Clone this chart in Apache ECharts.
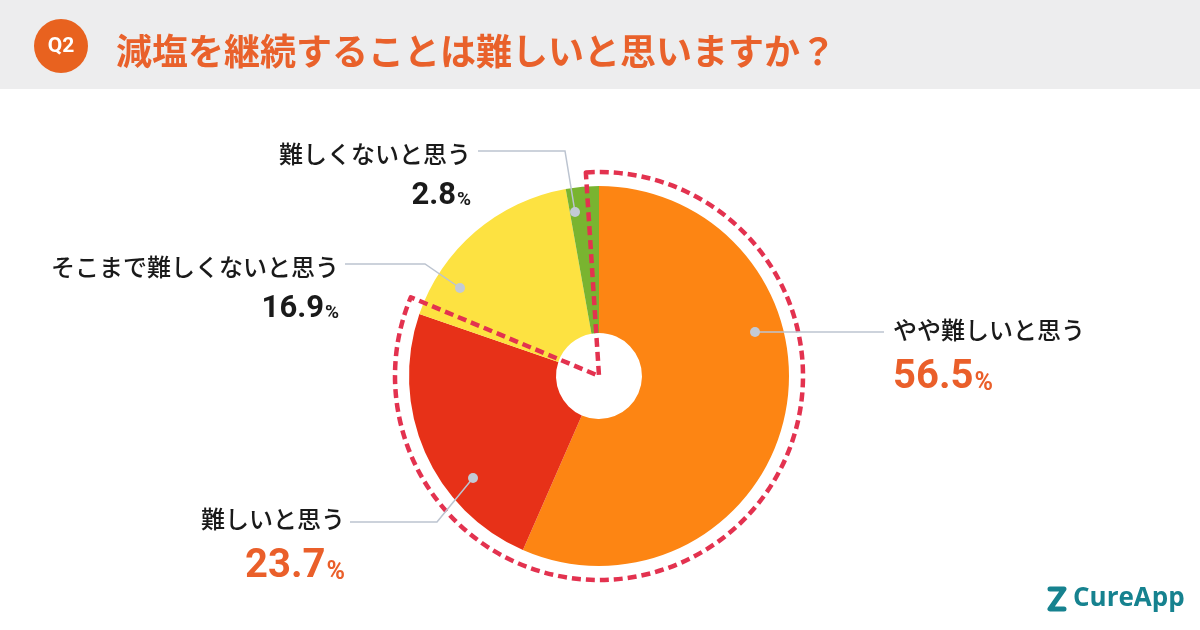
<!DOCTYPE html>
<html>
<head>
<meta charset="utf-8">
<script src="https://cdn.jsdelivr.net/npm/echarts@6/dist/echarts.min.js"></script>
<style>
  html, body { margin: 0; padding: 0; background: #fff; }
  #chart-container { width: 1200px; height: 630px; }
</style>
</head>
<body>
<div id="chart-container"></div>
<script>
// answers, clockwise from 12 o'clock
var categorias = ['やや難しいと思う', '難しいと思う', 'そこまで難しくないと思う', '難しくないと思う'];
var valores = [56.5, 23.7, 16.9, 2.8];
var destaque = [true, true, false, false]; // the "difficult" group, boxed with the dashed line

var titulo = '減塩を継続することは難しいと思いますか？';

var cores = ['#fd8513', '#e73118', '#fde241', '#79b430'];
var CENTRO = [599, 376];

// where each label sits and how its leader line runs (pixels)
var rotulos = [
  { x: 893, y: 308, align: 'left',  linha: [[755, 332], [800, 332], [884, 332]] },
  { x: 345, y: 497, align: 'right', linha: [[473, 478], [437, 522], [350, 522]] },
  { x: 339, y: 245, align: 'right', linha: [[460, 288], [425, 264], [345, 264]] },
  { x: 471, y: 132, align: 'right', linha: [[575, 212], [565, 151], [478, 151]] }
];

var dom = document.getElementById('chart-container');
var myChart = echarts.init(dom, null, { renderer: 'canvas' });

var total = valores.reduce(function (a, b) { return a + b; }, 0);
var somaDestaque = 0;
valores.forEach(function (v, i) { if (destaque[i]) somaDestaque += v; });
var folga = 3.7; // degrees the dashed outline sticks out on each side
var valorTracejado = somaDestaque + total * (2 * folga) / 360;

var dados = categorias.map(function (nome, i) {
  return { name: nome, value: valores[i], itemStyle: { color: cores[i] } };
});
var dadosRotulo = categorias.map(function (nome, i) {
  return { name: nome, value: valores[i], itemStyle: { color: 'rgba(0,0,0,0)' } };
});

var option = {
  backgroundColor: '#ffffff',
  animation: false,
  title: {
    text: titulo,
    left: 111,
    top: 23,
    textStyle: {
      fontFamily: 'Noto Sans CJK JP',
      fontSize: 36,
      fontWeight: 'bold',
      color: '#e9612b',
      lineHeight: 46
    }
  },
  graphic: [
    { type: 'rect', z: -10, shape: { x: 0, y: 0, width: 1200, height: 89 }, style: { fill: '#ededee' } },
    { type: 'circle', shape: { cx: 61, cy: 46, r: 27 }, style: { fill: '#e8621f' } },
    {
      type: 'text', x: 61, y: 47,
      style: { text: 'Q2', fill: '#fff', font: 'bold 21px Roboto', align: 'center', verticalAlign: 'middle' }
    },
    {
      type: 'polyline', z: 10,
      shape: { points: [[1050, 589], [1064, 589], [1050, 609], [1064, 609]] },
      style: { stroke: '#16828f', lineWidth: 5, lineCap: 'round', lineJoin: 'round', fill: null }
    },
    {
      type: 'text', x: 1073, y: 599,
      style: { text: 'CureApp', fill: '#16828f', font: 'bold 26px "Open Sans"', verticalAlign: 'middle' }
    }
  ].concat(rotulos.map(function (r) {
    return {
      type: 'circle', z: 100,
      shape: { cx: r.linha[0][0], cy: r.linha[0][1], r: 5 },
      style: { fill: '#c3cad5' }
    };
  })),
  series: [
    {
      type: 'pie',
      z: 2,
      center: CENTRO,
      radius: [43, 190],
      startAngle: 90,
      clockwise: true,
      silent: true,
      emphasis: { scale: false },
      label: { show: false },
      labelLine: { show: false },
      data: dados
    },
    {
      // dashed outline around the "difficult" answers
      type: 'pie',
      z: 5,
      center: CENTRO,
      radius: [0, 204],
      startAngle: 90 + folga,
      clockwise: true,
      silent: true,
      emphasis: { disabled: true },
      label: { show: false },
      labelLine: { show: false },
      data: [
        {
          value: valorTracejado,
          itemStyle: {
            color: 'rgba(0,0,0,0)',
            borderColor: '#e3324f',
            borderWidth: 4.5,
            borderType: [9, 5]
          }
        },
        {
          value: total - valorTracejado,
          itemStyle: { color: 'rgba(0,0,0,0)', borderWidth: 0 }
        }
      ]
    },
    {
      // same slices again, invisible, only to carry labels and leader lines on top
      type: 'pie',
      z: 8,
      center: CENTRO,
      radius: [43, 190],
      startAngle: 90,
      clockwise: true,
      silent: true,
      emphasis: { disabled: true },
      data: dadosRotulo,
      label: {
        show: true,
        position: 'outside',
        formatter: function (p) {
          var big = destaque[p.dataIndex];
          var num = valores[p.dataIndex].toFixed(1);
          return '{nome|' + p.name + '}\n' +
            (big ? '{numA|' + num + '}{pctA|%}' : '{numB|' + num + '}{pctB|%}');
        },
        rich: {
          nome: { fontFamily: 'Noto Sans CJK JP', fontSize: 24, fontWeight: 500, color: '#1a1a1a', lineHeight: 44 },
          numA: { fontFamily: 'Roboto', fontSize: 40, fontWeight: 'bold', color: '#ea5f2a', lineHeight: 52 },
          pctA: { fontFamily: 'Roboto', fontSize: 25, fontWeight: 'bold', color: '#ea5f2a', lineHeight: 25, verticalAlign: 'bottom', padding: [0, 0, 8, 1] },
          numB: { fontFamily: 'Roboto', fontSize: 31, fontWeight: 'bold', color: '#1a1a1a', lineHeight: 40 },
          pctB: { fontFamily: 'Roboto', fontSize: 19, fontWeight: 'bold', color: '#1a1a1a', lineHeight: 19, verticalAlign: 'bottom', padding: [0, 0, 6, 1] }
        }
      },
      labelLine: {
        show: true,
        length: 20,
        length2: 40,
        smooth: false,
        lineStyle: { color: '#bcc4d0', width: 1.5 }
      },
      labelLayout: function (params) {
        var r = rotulos[params.dataIndex];
        return {
          x: r.x,
          y: r.y,
          align: r.align,
          verticalAlign: 'top',
          labelLinePoints: r.linha
        };
      }
    }
  ]
};

if (option && typeof option === 'object') {
  myChart.setOption(option);
}

window.addEventListener('resize', myChart.resize);
</script>
</body>
</html>
